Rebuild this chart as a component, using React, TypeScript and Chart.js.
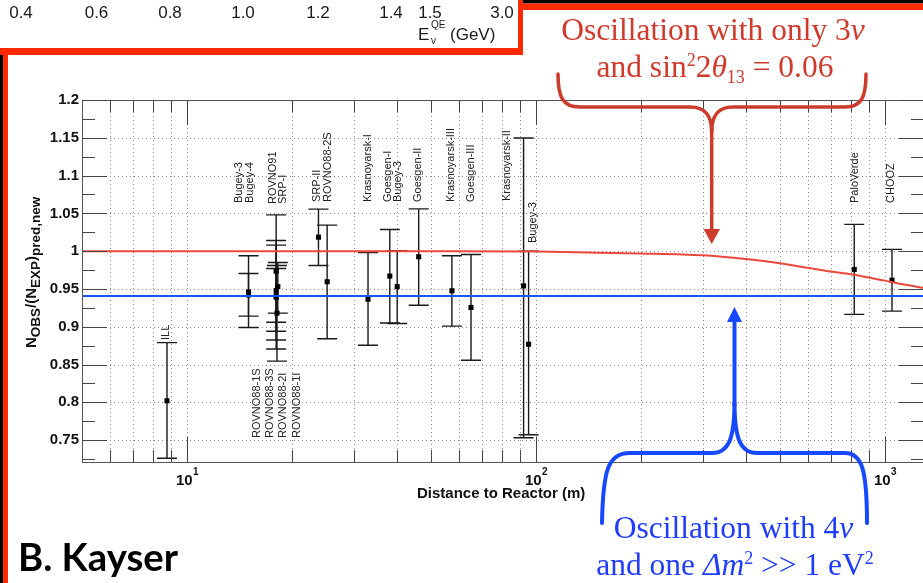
import React, { useEffect, useRef } from 'react';
import { Chart, registerables } from 'chart.js';

Chart.register(...registerables);

// ---------- data ----------
const experiments = ['ILL', 'Bugey-4', 'Bugey-3', 'ROVNO88-3S', 'SRP-I', 'ROVNO88-2I', 'ROVNO88-1I', 'ROVNO88-1S', 'ROVNO91', 'SRP-II', 'ROVNO88-2S', 'Krasnoyarsk-I', 'Goesgen-I', 'Bugey-3', 'Goesgen-II', 'Krasnoyarsk-III', 'Goesgen-III', 'Krasnoyarsk-II', 'Bugey-3', 'PaloVerde', 'CHOOZ'];
const distances = [8.76, 15, 15, 18, 18.2, 18, 18, 18.1, 18, 23.8, 25.2, 33, 38.1, 40, 46.1, 57.4, 65.1, 92.1, 95.2, 816, 1047];
const ratios = [0.802, 0.942, 0.946, 0.9735, 0.953, 0.948, 0.939, 0.918, 0.941, 1.0185, 0.9595, 0.9364, 0.967, 0.953, 0.9926, 0.9476, 0.9255, 0.954, 0.8768, 0.9758, 0.9616];
const errLow = [0.726, 0.914, 0.899, 0.894, 0.918, 0.8825, 0.8705, 0.8545, 0.906, 0.981, 0.884, 0.8755, 0.905, 0.9043, 0.9285, 0.9008, 0.8556, 0.753, 0.757, 0.9163, 0.9206];
const errHigh = [0.879, 0.9705, 0.994, 1.048, 0.985, 1.014, 1.008, 0.981, 0.977, 1.0556, 1.0344, 0.998, 1.0287, 1.0005, 1.056, 0.994, 0.9956, 1.1497, 1.0, 1.0354, 1.0023];

// 3-neutrino oscillation curve (sin^2 2theta13 = 0.06)
const curveL = [5, 50, 100, 150, 200, 300, 400, 500, 600, 700, 800, 900, 1000, 1100, 1200, 1300];
const curveR = [1.0, 1.0, 0.9995, 0.998, 0.997, 0.9945, 0.9895, 0.984, 0.978, 0.973, 0.9695, 0.965, 0.961, 0.957, 0.954, 0.951];

// 4-neutrino averaged level
const blueLevel = 0.9405;
const blueL = [5, 1300];

// axes
const xMin = 5;
const xMax = 1293;
const yMin = 0.721;
const yMax = 1.2;
const yTicks = [0.75, 0.8, 0.85, 0.9, 0.95, 1, 1.05, 1.1, 1.15, 1.2];
const yMinorTicks = [0.725, 0.775, 0.825, 0.875, 0.925, 0.975, 1.025, 1.075, 1.125, 1.175];
const xGridTicks = [5, 6, 7, 8, 9, 10, 20, 30, 40, 50, 60, 70, 80, 90, 100, 200, 300, 400, 500, 600, 700, 800, 900, 1000];
const xDecades = [10, 100, 1000];

// fragment of the other plot at the top of the slide
const topTickLabels = ['0.4', '0.6', '0.8', '1.0', '1.2', '1.4', '1.5', '3.0'];

// experiment name labels (rotated)
const nameLabels: { t: string; x: number; y: number }[] = [
  { t: 'ILL', x: 166, y: 340 },
  { t: 'Bugey-3', x: 238.5, y: 203 },
  { t: 'Bugey-4', x: 249.5, y: 203 },
  { t: 'ROVNO91', x: 272.5, y: 204 },
  { t: 'SRP-I', x: 283, y: 204 },
  { t: 'SRP-II', x: 317, y: 202 },
  { t: 'ROVNO88-2S', x: 327.5, y: 202 },
  { t: 'Krasnoyarsk-I', x: 367.5, y: 202 },
  { t: 'Goesgen-I', x: 388, y: 202 },
  { t: 'Bugey-3', x: 398, y: 202 },
  { t: 'Goesgen-II', x: 418, y: 202 },
  { t: 'Krasnoyarsk-III', x: 451, y: 202 },
  { t: 'Goesgen-III', x: 471, y: 202 },
  { t: 'Krasnoyarsk-II', x: 507, y: 201 },
  { t: 'Bugey-3', x: 532.5, y: 243 },
  { t: 'ROVNO88-1S', x: 256.7, y: 438 },
  { t: 'ROVNO88-3S', x: 270, y: 438 },
  { t: 'ROVNO88-2I', x: 283.3, y: 438 },
  { t: 'ROVNO88-1I', x: 296.7, y: 438 },
  { t: 'PaloVerde', x: 855, y: 203 },
  { t: 'CHOOZ', x: 891, y: 203 },
];

const W = 930;
const H = 583;
const SANS = 'Liberation Sans';
const SERIF = 'Liberation Serif';
const RED_TXT = '#cf3a2c';
const BLUE_TXT = '#1f3cff';
const FRAME_RED = '#ff2a00';

type Run = { t: string; f: string; dy?: number };

function drawRuns(ctx: CanvasRenderingContext2D, runs: Run[], cx: number, y: number) {
  let total = 0;
  for (const r of runs) {
    ctx.font = r.f;
    total += ctx.measureText(r.t).width;
  }
  let x = cx - total / 2;
  ctx.textAlign = 'left';
  ctx.textBaseline = 'alphabetic';
  for (const r of runs) {
    ctx.font = r.f;
    ctx.fillText(r.t, x, y + (r.dy || 0));
    x += ctx.measureText(r.t).width;
  }
}

const decorPlugin = {
  id: 'decor',
  beforeDraw(chart: any) {
    const ctx: CanvasRenderingContext2D = chart.ctx;
    ctx.save();
    ctx.fillStyle = '#fff';
    ctx.fillRect(0, 0, W, H);
    ctx.restore();
  },
  beforeDatasetsDraw(chart: any) {
    const ctx: CanvasRenderingContext2D = chart.ctx;
    const xs = chart.scales.x;
    const ys = chart.scales.y;
    const { left, right, top, bottom } = chart.chartArea;
    ctx.save();
    // dotted grid
    ctx.strokeStyle = '#8c8c8c';
    ctx.lineWidth = 1;
    ctx.setLineDash([1, 3]);
    ctx.beginPath();
    for (const v of xGridTicks) {
      if (v <= xMin) continue;
      const px = Math.round(xs.getPixelForValue(v)) + 0.5;
      ctx.moveTo(px, top);
      ctx.lineTo(px, bottom);
    }
    for (const v of yTicks) {
      const py = Math.round(ys.getPixelForValue(v)) + 0.5;
      ctx.moveTo(left, py);
      ctx.lineTo(right, py);
    }
    ctx.stroke();
    ctx.setLineDash([]);

    // error bars
    ctx.strokeStyle = '#1a1a1a';
    ctx.lineWidth = 1.4;
    for (let i = 0; i < distances.length; i++) {
      const px = xs.getPixelForValue(distances[i]);
      const lo = ys.getPixelForValue(errLow[i]);
      const hi = ys.getPixelForValue(errHigh[i]);
      ctx.beginPath();
      ctx.moveTo(px, lo);
      ctx.lineTo(px, hi);
      ctx.moveTo(px - 10, lo);
      ctx.lineTo(px + 10, lo);
      ctx.moveTo(px - 10, hi);
      ctx.lineTo(px + 10, hi);
      ctx.stroke();
    }
    ctx.restore();
  },
  afterDatasetsDraw(chart: any) {
    const ctx: CanvasRenderingContext2D = chart.ctx;
    const xs = chart.scales.x;
    const ys = chart.scales.y;
    const { left, right, top, bottom } = chart.chartArea;
    ctx.save();
    // frame
    ctx.strokeStyle = '#555';
    ctx.lineWidth = 1;
    ctx.strokeRect(Math.round(left) + 0.5, Math.round(top) + 0.5, Math.round(right - left), Math.round(bottom - top));
    // x ticks
    ctx.strokeStyle = '#444';
    ctx.beginPath();
    for (const v of xGridTicks) {
      if (v <= xMin) continue;
      const px = Math.round(xs.getPixelForValue(v)) + 0.5;
      const len = xDecades.includes(v) ? 25 : 12;
      ctx.moveTo(px, bottom);
      ctx.lineTo(px, bottom - len);
      ctx.moveTo(px, top);
      ctx.lineTo(px, top + len);
    }
    // y ticks
    for (const v of yTicks) {
      const py = Math.round(ys.getPixelForValue(v)) + 0.5;
      ctx.moveTo(left, py);
      ctx.lineTo(left + 25, py);
      ctx.moveTo(right, py);
      ctx.lineTo(right - 25, py);
    }
    for (const v of yMinorTicks) {
      const py = Math.round(ys.getPixelForValue(v)) + 0.5;
      ctx.moveTo(left, py);
      ctx.lineTo(left + 13, py);
      ctx.moveTo(right, py);
      ctx.lineTo(right - 13, py);
    }
    ctx.stroke();

    // y tick labels
    ctx.fillStyle = '#111';
    ctx.font = `bold 15px ${SANS}`;
    ctx.textAlign = 'right';
    ctx.textBaseline = 'middle';
    for (const v of yTicks) {
      ctx.fillText(String(v), left - 3, ys.getPixelForValue(v));
    }
    // x tick labels (10^n)
    for (const v of xDecades) {
      const px = xs.getPixelForValue(v);
      const exp = String(Math.round(Math.log10(v)));
      ctx.font = `bold 15px ${SANS}`;
      const w1 = ctx.measureText('10').width;
      ctx.font = `bold 10px ${SANS}`;
      const w2 = ctx.measureText(exp).width;
      const x0 = px - (w1 + w2) / 2;
      ctx.textAlign = 'left';
      ctx.textBaseline = 'alphabetic';
      ctx.font = `bold 15px ${SANS}`;
      ctx.fillText('10', x0, 485);
      ctx.font = `bold 10px ${SANS}`;
      ctx.fillText(exp, x0 + w1 + 0.5, 475);
    }
    // x title
    ctx.font = `bold 15px ${SANS}`;
    ctx.textAlign = 'left';
    ctx.fillText('Distance to Reactor (m)', 417, 498);

    // y title (rotated)
    ctx.save();
    ctx.translate(36, 348);
    ctx.rotate(-Math.PI / 2);
    const big = `bold 15px ${SANS}`;
    const sub = `bold 13.5px ${SANS}`;
    const yRuns: Run[] = [
      { t: 'N', f: big },
      { t: 'OBS', f: sub, dy: 4 },
      { t: '/(N', f: big },
      { t: 'EXP', f: sub, dy: 4 },
      { t: ')', f: big },
      { t: 'pred,new', f: sub, dy: 4 },
    ];
    let xx = 0;
    ctx.textAlign = 'left';
    for (const r of yRuns) {
      ctx.font = r.f;
      ctx.fillText(r.t, xx, r.dy || 0);
      xx += ctx.measureText(r.t).width;
    }
    ctx.restore();

    // experiment labels
    ctx.fillStyle = '#222';
    ctx.font = `11px ${SANS}`;
    for (const l of nameLabels) {
      ctx.save();
      ctx.translate(l.x, l.y);
      ctx.rotate(-Math.PI / 2);
      ctx.textAlign = 'left';
      ctx.textBaseline = 'middle';
      ctx.fillText(l.t, 0, 0);
      ctx.restore();
    }
    ctx.restore();
  },
  afterDraw(chart: any) {
    const ctx: CanvasRenderingContext2D = chart.ctx;
    ctx.save();
    // slide frame pieces
    ctx.fillStyle = '#000';
    ctx.fillRect(0, 55, 3, H - 55);
    ctx.fillRect(523, 0, W - 523, 3.5);
    ctx.fillStyle = FRAME_RED;
    ctx.fillRect(3, 48, 5, H - 48);
    ctx.fillRect(0, 48, 523, 7);
    ctx.fillRect(518, 0, 5, 55);
    ctx.fillRect(518, 3.5, W - 518, 6.5);

    // top fragment of the other chart
    const topX = [21, 96.5, 170, 243, 318, 391, 430, 502];
    ctx.fillStyle = '#1a1a1a';
    ctx.font = `17px ${SANS}`;
    ctx.textAlign = 'center';
    ctx.textBaseline = 'alphabetic';
    topTickLabels.forEach((t, i) => ctx.fillText(t, topX[i], 18));
    ctx.textAlign = 'left';
    ctx.font = `17px ${SANS}`;
    ctx.fillText('E', 418, 40);
    ctx.font = `10px ${SANS}`;
    ctx.fillText('QE', 431, 28);
    ctx.fillText('ν', 431, 44);
    ctx.font = `17px ${SANS}`;
    ctx.fillText('(GeV)', 450, 40);

    // B. Kayser
    ctx.fillStyle = '#000';
    ctx.font = `bold 39px Lato`;
    ctx.fillText('B. Kayser', 18, 571, 160);

    // red annotation
    ctx.fillStyle = RED_TXT;
    const rf = `31.5px ${SERIF}`;
    const rfi = `italic 31.5px ${SERIF}`;
    const rs = `18px ${SERIF}`;
    drawRuns(ctx, [{ t: 'Oscillation with only 3', f: rf }, { t: 'ν', f: rfi }], 713, 40);
    drawRuns(ctx, [
      { t: 'and sin', f: rf },
      { t: '2', f: rs, dy: -11 },
      { t: '2', f: rf },
      { t: 'θ', f: rfi },
      { t: '13', f: rs, dy: 6 },
      { t: ' = 0.06', f: rf },
    ], 715, 77);

    ctx.strokeStyle = '#cc3a2a';
    ctx.fillStyle = '#cc3a2a';
    ctx.lineWidth = 3.5;
    ctx.lineCap = 'round';
    ctx.beginPath();
    ctx.moveTo(558, 74);
    ctx.bezierCurveTo(558, 98, 563, 107, 580, 107);
    ctx.lineTo(690, 107);
    ctx.bezierCurveTo(704, 107, 711.7, 114, 711.7, 132);
    ctx.bezierCurveTo(711.7, 114, 719, 107, 733, 107);
    ctx.lineTo(845, 107);
    ctx.bezierCurveTo(861, 107, 866, 98, 866, 74);
    ctx.stroke();
    ctx.lineCap = 'butt';
    ctx.lineWidth = 3.5;
    ctx.beginPath();
    ctx.moveTo(711.7, 128);
    ctx.lineTo(711.7, 231);
    ctx.stroke();
    ctx.beginPath();
    ctx.moveTo(703.5, 229);
    ctx.lineTo(720, 229);
    ctx.lineTo(711.7, 244);
    ctx.closePath();
    ctx.fill();

    // blue annotation
    ctx.strokeStyle = '#1648ff';
    ctx.fillStyle = '#1648ff';
    ctx.lineWidth = 4;
    ctx.lineCap = 'round';
    ctx.beginPath();
    ctx.moveTo(602, 523);
    ctx.bezierCurveTo(603, 470, 608, 453, 630, 453);
    ctx.lineTo(712, 453);
    ctx.bezierCurveTo(728, 453, 734.5, 440, 734.5, 402);
    ctx.bezierCurveTo(734.5, 440, 741, 453, 757, 453);
    ctx.lineTo(845, 453);
    ctx.bezierCurveTo(862, 453, 867, 470, 867, 523);
    ctx.stroke();
    ctx.lineCap = 'butt';
    ctx.beginPath();
    ctx.moveTo(734.5, 406);
    ctx.lineTo(734.5, 320);
    ctx.stroke();
    ctx.beginPath();
    ctx.moveTo(727, 322);
    ctx.lineTo(742, 322);
    ctx.lineTo(734.5, 307);
    ctx.closePath();
    ctx.fill();

    ctx.fillStyle = BLUE_TXT;
    drawRuns(ctx, [{ t: 'Oscillation with 4', f: rf }, { t: 'ν', f: rfi }], 733.5, 538);
    drawRuns(ctx, [
      { t: 'and one ', f: rf },
      { t: 'Δm', f: rfi },
      { t: '2', f: rs, dy: -11 },
      { t: ' >> 1 eV', f: rf },
      { t: '2', f: rs, dy: -11 },
    ], 735, 575);
    ctx.restore();
  },
};

export default function App() {
  const ref = useRef<HTMLCanvasElement>(null);
  useEffect(() => {
    const canvas = ref.current;
    if (!canvas) return;
    const chart = new Chart(canvas, {
      type: 'scatter',
      data: {
        datasets: [
          {
            label: '3ν',
            data: curveL.map((x, i) => ({ x, y: curveR[i] })),
            showLine: true,
            borderColor: '#e9493b',
            borderWidth: 2,
            pointRadius: 0,
            cubicInterpolationMode: 'monotone',
            order: 0,
          },
          {
            label: '4ν',
            data: blueL.map((x) => ({ x, y: blueLevel })),
            showLine: true,
            borderColor: '#1a55ff',
            borderWidth: 2,
            pointRadius: 0,
            order: 1,
          },
          {
            label: 'data',
            data: distances.map((x, i) => ({ x, y: ratios[i] })),
            pointStyle: 'rect',
            pointRadius: 3.6,
            backgroundColor: '#000',
            borderColor: '#000',
            borderWidth: 0,
            order: 2,
          },
        ],
      } as any,
      options: {
        responsive: false,
        devicePixelRatio: 1,
        animation: false,
        events: [],
        layout: { padding: { left: 0, top: 100, right: W - 924, bottom: 0 } },
        plugins: { legend: { display: false }, tooltip: { enabled: false } },
        scales: {
          x: {
            type: 'logarithmic',
            position: 'bottom',
            min: xMin,
            max: xMax,
            afterBuildTicks: (s: any) => {
              s.ticks = xGridTicks.map((v) => ({ value: v }));
            },
            afterFit: (s: any) => {
              s.height = H - 462;
            },
            ticks: { display: false },
            grid: { display: false },
            border: { display: false },
          },
          y: {
            type: 'linear',
            min: yMin,
            max: yMax,
            afterBuildTicks: (s: any) => {
              s.ticks = yTicks.map((v) => ({ value: v }));
            },
            afterFit: (s: any) => {
              s.width = 82;
            },
            ticks: { display: false },
            grid: { display: false },
            border: { display: false },
          },
        },
      } as any,
      plugins: [decorPlugin],
    });
    return () => chart.destroy();
  }, []);
  return (
    <div style={{ position: 'fixed', left: 0, top: 0, width: 923, height: 583, overflow: 'hidden', background: '#fff' }}>
      <canvas ref={ref} width={W} height={H} style={{ display: 'block', width: W, height: H }} />
    </div>
  );
}
